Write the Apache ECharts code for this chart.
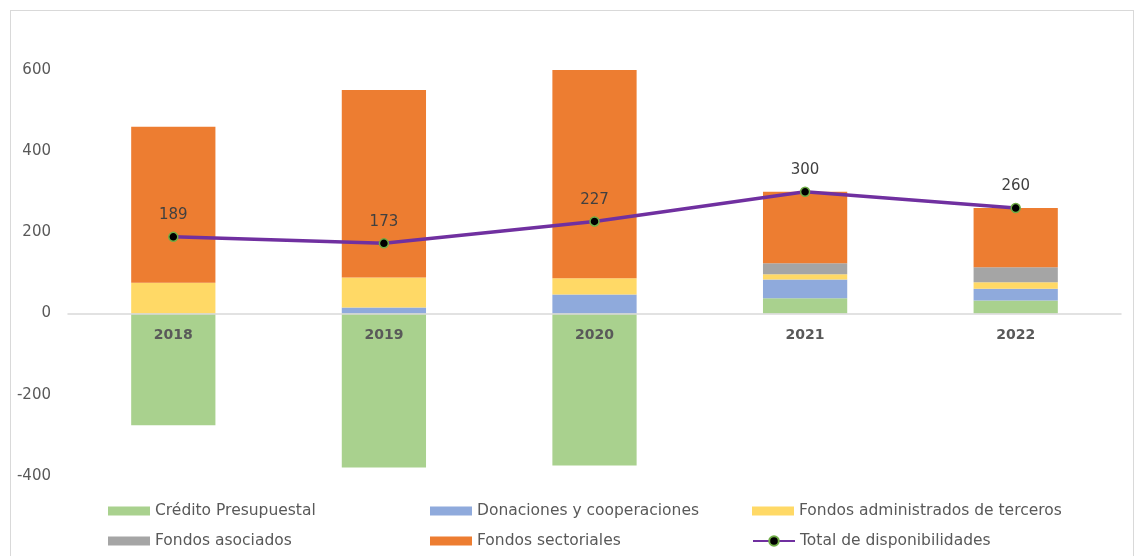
<!DOCTYPE html>
<html>
<head>
<meta charset="utf-8">
<script src="https://cdn.jsdelivr.net/npm/echarts@6/dist/echarts.min.js"></script>
<style>
  html, body { margin: 0; padding: 0; background: #fff; }
  #frame {
    position: absolute; left: 10px; top: 10px; width: 1124px; height: 560px;
    border: 1px solid #d9d9d9; box-sizing: border-box;
  }
  #chart { position: absolute; left: 0; top: 0; width: 1144px; height: 556px; }
</style>
</head>
<body>
<div id="frame"></div>
<div id="chart"></div>
<script>
const years = ['2018', '2019', '2020', '2021', '2022'];
const credito = [-275, -379, -374, 38, 32];
const donaciones = [0, 15, 47, 46, 29];
const administrados = [76, 74, 40, 13, 16];
const asociados = [0, 0, 0, 27, 37];
const sectoriales = [384, 462, 515, 176, 146];
const totalDisp = [189, 173, 227, 300, 260];
const yTicks = { min: -400, max: 600, interval: 200 };

const names = ['Crédito Presupuestal', 'Donaciones y cooperaciones', 'Fondos administrados de terceros',
  'Fondos asociados', 'Fondos sectoriales', 'Total de disponibilidades'];
const colors = ['#A9D18E', '#8FAADC', '#FFD966', '#A5A5A5', '#ED7D31'];
const barData = [credito, donaciones, administrados, asociados, sectoriales];

const font = 'DejaVu Sans';
const chart = echarts.init(document.getElementById('chart'));

const series = barData.map((d, i) => ({
  name: names[i],
  type: 'bar',
  stack: 'total',
  barWidth: '40%',
  itemStyle: { color: colors[i] },
  data: d
}));
series.push({
  name: names[5],
  type: 'line',
  data: totalDisp,
  symbol: 'circle',
  symbolSize: 9,
  lineStyle: { color: '#7030A0', width: 3.5 },
  itemStyle: { color: '#000', borderColor: '#70AD47', borderWidth: 1.5 },
  label: { show: true, position: 'top', distance: 9, color: '#404040', fontSize: 15, fontFamily: font },
  z: 5
});

// legend: two rows of three
const legendX = [108, 430, 752];
const legendY = [503, 533];
const legends = names.map((n, i) => ({
  data: [{ name: n, icon: i === 5 ? undefined : 'rect' }],
  left: legendX[i % 3],
  top: legendY[Math.floor(i / 3)],
  padding: 0,
  itemWidth: 42,
  itemHeight: i === 5 ? 12 : 9,
  textStyle: { color: '#595959', fontSize: 15.5, fontFamily: font }
}));

chart.setOption({
  animation: false,
  textStyle: { fontFamily: font },
  legend: legends,
  grid: { left: 68, right: 23, top: 70, bottom: 80 },
  xAxis: {
    type: 'category',
    data: years,
    offset: -162,
    z: 10,
    axisLine: { onZero: false, lineStyle: { color: '#D9D9D9', width: 1.5 } },
    axisTick: { show: false },
    axisLabel: { color: '#595959', fontSize: 14, fontWeight: 'bold', margin: 14, fontFamily: font }
  },
  yAxis: {
    type: 'value',
    min: yTicks.min,
    max: yTicks.max,
    interval: yTicks.interval,
    splitLine: { show: false },
    axisLine: { show: false },
    axisLabel: { color: '#595959', fontSize: 15, margin: 17, fontFamily: font }
  },
  series: series
});
</script>
</body>
</html>
